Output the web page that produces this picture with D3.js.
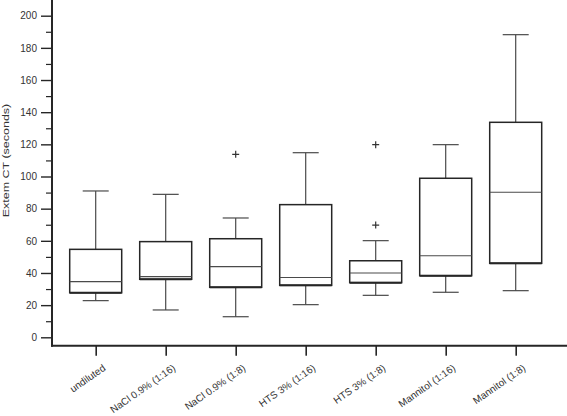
<!DOCTYPE html>
<html><head><meta charset="utf-8">
<script src="https://cdn.jsdelivr.net/npm/d3@7"></script>
<style>body{margin:0;background:#fff}svg{display:block}</style>
</head><body>
<script>
const categories = ["undiluted","NaCl 0.9% (1:16)","NaCl 0.9% (1:8)","HTS 3% (1:16)","HTS 3% (1:8)","Mannitol (1:16)","Mannitol (1:8)"];
const whiskerLow  = [22.8, 17.0, 12.8, 20.3, 26.1, 28.0, 29.0];
const q1          = [27.7, 36.1, 31.1, 32.3, 34.0, 38.3, 46.0];
const median      = [34.6, 37.7, 43.9, 37.2, 40.0, 50.7, 90.2];
const q3          = [54.7, 59.5, 61.3, 82.5, 47.6, 98.9, 133.7];
const whiskerHigh = [91.0, 88.9, 74.2, 114.8, 60.1, 119.8, 188.2];
const outliers    = [[], [], [113.8], [], [69.8, 119.8], [], []];
const majorTicks  = [0,20,40,60,80,100,120,140,160,180,200];
const minorTicks  = [10,30,50,70,90,110,130,150,170,190];
const yTitle = "Extem CT (seconds)";

const W = 567, H = 416;
const svg = d3.select("body").append("svg").attr("width", W).attr("height", H);
const x = d3.scalePoint().domain(categories).range([95.7, 515.7]);
const y = d3.scaleLinear().domain([0, 200]).range([337.3, 15.7]);
const axisX = 52, axisY = 345.7;
const ink = "#262626";
const font = "Liberation Sans, Arial, sans-serif";

// y axis ticks
svg.append("g").attr("transform", `translate(${axisX},0)`)
  .call(d3.axisLeft(y).tickValues(minorTicks).tickSize(6).tickFormat(""))
  .call(g => g.select(".domain").remove())
  .selectAll("line").attr("stroke", ink).attr("stroke-width", 1.2);
const gY2 = svg.append("g").attr("transform", `translate(${axisX},0)`)
  .call(d3.axisLeft(y).tickValues(majorTicks).tickSize(11).tickPadding(4))
  .call(g => g.select(".domain").remove());
gY2.selectAll("line").attr("stroke", ink).attr("stroke-width", 1.4);
gY2.selectAll("text").attr("fill", "#333").attr("font-family", font)
  .attr("font-size", 10).attr("x", -15);

// x axis ticks
svg.append("g").attr("transform", `translate(0,${axisY})`)
  .call(d3.axisBottom(x).tickSize(10).tickFormat(""))
  .call(g => g.select(".domain").remove())
  .selectAll("line").attr("stroke", ink).attr("stroke-width", 1.6);

// x labels
svg.append("g").selectAll("text").data(categories).join("text")
  .attr("transform", d => `translate(${x(d) + 10.5},369.5) rotate(-35)`)
  .attr("text-anchor", "end")
  .attr("font-family", font).attr("font-size", 10)
  .attr("fill", "#333").text(d => d);

// axis lines
svg.append("line").attr("x1", axisX).attr("x2", axisX).attr("y1", 0).attr("y2", axisY + 1)
  .attr("stroke", ink).attr("stroke-width", 2);
svg.append("line").attr("x1", axisX - 1).attr("x2", W).attr("y1", axisY).attr("y2", axisY)
  .attr("stroke", ink).attr("stroke-width", 2);

// y title
svg.append("text").attr("transform", `translate(8.5,160.5) rotate(-90) scale(1,0.75)`)
  .attr("text-anchor", "middle").attr("font-family", font)
  .attr("font-size", 12.5).attr("fill", "#333").text(yTitle);

// boxes
const boxW = 52, capW = 26;
const data = categories.map((c, i) => ({c, lo: whiskerLow[i], q1: q1[i], med: median[i], q3: q3[i], hi: whiskerHigh[i], out: outliers[i]}));
const g = svg.append("g").selectAll("g").data(data).join("g");
const wc = "#4a4a4a";
g.append("line").attr("x1", d => x(d.c)).attr("x2", d => x(d.c)).attr("y1", d => y(d.hi)).attr("y2", d => y(d.q3)).attr("stroke", wc).attr("stroke-width", 1.2);
g.append("line").attr("x1", d => x(d.c)).attr("x2", d => x(d.c)).attr("y1", d => y(d.q1)).attr("y2", d => y(d.lo)).attr("stroke", wc).attr("stroke-width", 1.2);
g.append("line").attr("x1", d => x(d.c) - capW/2).attr("x2", d => x(d.c) + capW/2).attr("y1", d => y(d.hi)).attr("y2", d => y(d.hi)).attr("stroke", wc).attr("stroke-width", 1.2);
g.append("line").attr("x1", d => x(d.c) - capW/2).attr("x2", d => x(d.c) + capW/2).attr("y1", d => y(d.lo)).attr("y2", d => y(d.lo)).attr("stroke", wc).attr("stroke-width", 1.2);
g.append("rect").attr("x", d => x(d.c) - boxW/2).attr("width", boxW)
  .attr("y", d => y(d.q3)).attr("height", d => y(d.q1) - y(d.q3))
  .attr("fill", "#fff").attr("stroke", ink).attr("stroke-width", 1.5);
g.append("line").attr("x1", d => x(d.c) - boxW/2).attr("x2", d => x(d.c) + boxW/2).attr("y1", d => y(d.q1)).attr("y2", d => y(d.q1)).attr("stroke", ink).attr("stroke-width", 2);
g.append("line").attr("x1", d => x(d.c) - boxW/2).attr("x2", d => x(d.c) + boxW/2).attr("y1", d => y(d.med)).attr("y2", d => y(d.med)).attr("stroke", wc).attr("stroke-width", 1.2);
// outliers
g.each(function(d){
  const sel = d3.select(this);
  d.out.forEach(v => {
    const cx = x(d.c), cy = y(v), s = 3.5;
    sel.append("path").attr("d", `M${cx - s},${cy}H${cx + s}M${cx},${cy - s}V${cy + s}`)
      .attr("stroke", "#333").attr("stroke-width", 1.2).attr("fill", "none");
  });
});
</script>
</body></html>
